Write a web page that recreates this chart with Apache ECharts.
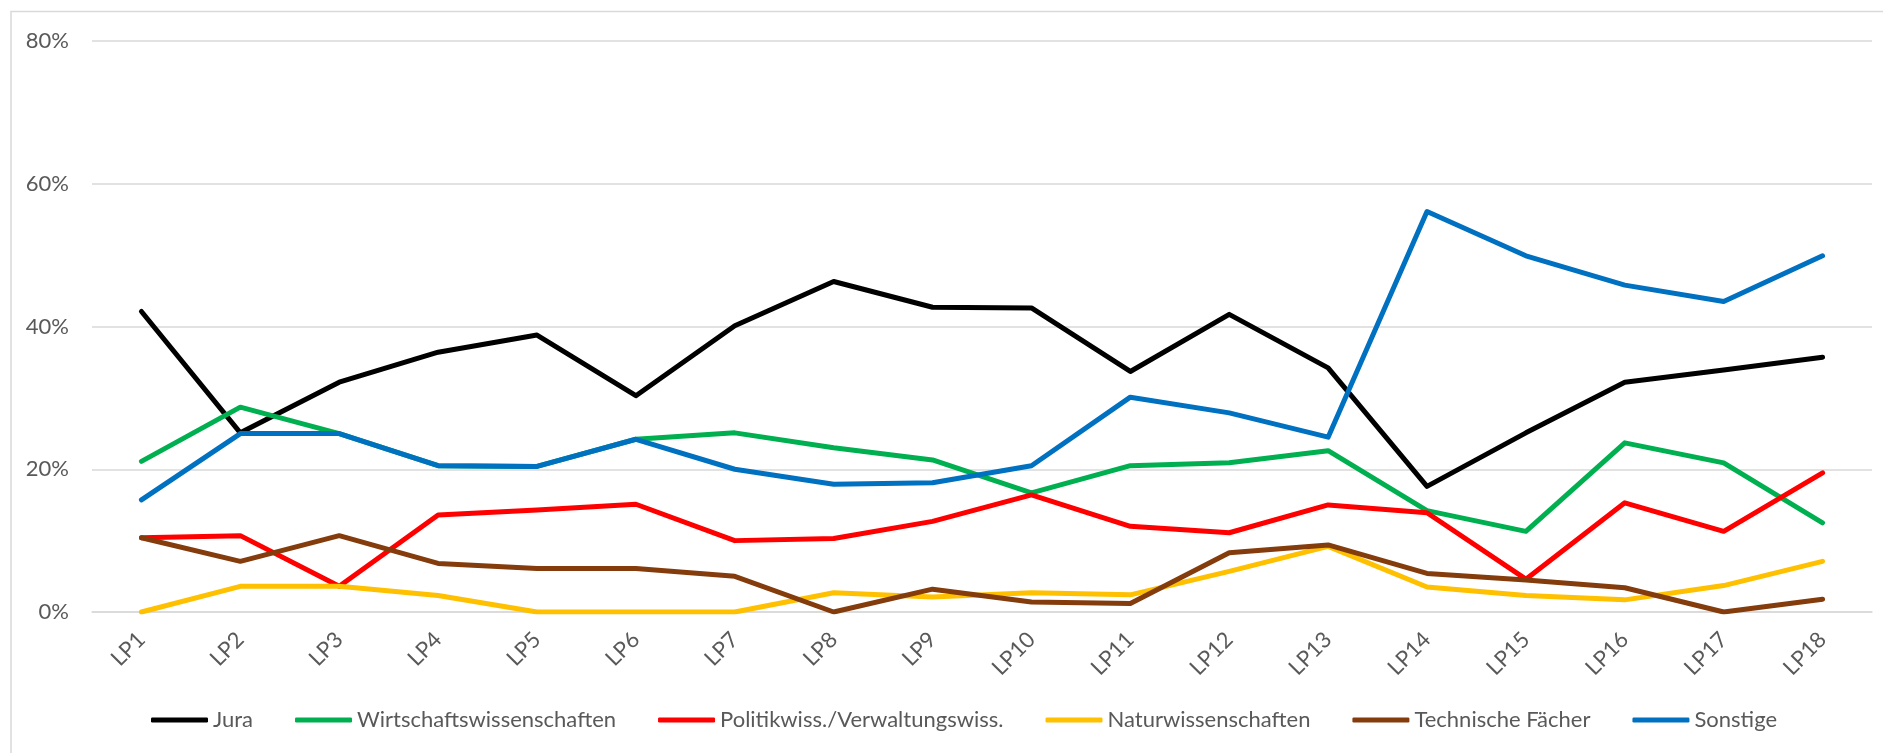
<!DOCTYPE html>
<html>
<head>
<meta charset="utf-8">
<script src="https://cdn.jsdelivr.net/npm/echarts@6/dist/echarts.min.js"></script>
<style>
  html, body { margin: 0; padding: 0; background: #fff; }
  #main { width: 1883px; height: 753px; }
</style>
</head>
<body>
<div id="main"></div>
<script>
// Kategorien (Legislaturperioden)
var categories = ['LP1','LP2','LP3','LP4','LP5','LP6','LP7','LP8','LP9','LP10','LP11','LP12','LP13','LP14','LP15','LP16','LP17','LP18'];

// Anteile in Prozent
var jura          = [42.1, 25.1, 32.2, 36.4, 38.8, 30.3, 40.1, 46.3, 42.7, 42.6, 33.7, 41.7, 34.2, 17.6, 25.1, 32.2, 33.9, 35.7];
var wirtschaft    = [21.1, 28.7, 25.0, 20.5, 20.4, 24.2, 25.1, 23.0, 21.3, 16.7, 20.5, 20.9, 22.6, 14.2, 11.3, 23.7, 20.9, 12.5];
var politik       = [10.4, 10.7, 3.6, 13.6, 14.3, 15.1, 10.0, 10.3, 12.7, 16.4, 12.0, 11.1, 15.0, 13.9, 4.6, 15.3, 11.3, 19.5];
var natur         = [0, 3.6, 3.6, 2.3, 0, 0, 0, 2.7, 2.1, 2.7, 2.4, 5.7, 9.2, 3.5, 2.3, 1.7, 3.7, 7.1];
var technik       = [10.4, 7.1, 10.7, 6.8, 6.1, 6.1, 5.0, 0, 3.2, 1.4, 1.2, 8.3, 9.4, 5.4, 4.5, 3.4, 0, 1.8];
var sonstige      = [15.7, 25.0, 25.0, 20.5, 20.4, 24.2, 20.0, 17.9, 18.1, 20.5, 30.1, 27.9, 24.5, 56.1, 49.9, 45.8, 43.5, 49.9];

var seriesNames  = ['Jura', 'Wirtschaftswissenschaften', 'Politikwiss./Verwaltungswiss.', 'Naturwissenschaften', 'Technische Fächer', 'Sonstige'];
var seriesData   = [jura, wirtschaft, politik, natur, technik, sonstige];
var seriesColors = ['#000000', '#00B050', '#FF0000', '#FFC000', '#843C0C', '#0070C0'];

var fontName = 'Lato, "Open Sans", sans-serif';

var myChart = echarts.init(document.getElementById('main'));

var seriesList = [];
for (var i = 0; i < seriesNames.length; i++) {
  seriesList.push({
    name: seriesNames[i],
    type: 'line',
    data: seriesData[i],
    symbol: 'none',
    color: seriesColors[i],
    itemStyle: { color: seriesColors[i] },
    lineStyle: { color: seriesColors[i], width: 5, cap: 'round', join: 'round' },
    emphasis: { disabled: true }
  });
}

var option = {
  animation: false,
  textStyle: { fontFamily: fontName },
  graphic: [{
    type: 'rect',
    shape: { x: 11, y: 11.5, width: 1900, height: 800 },
    style: { fill: 'none', stroke: '#d9d9d9', lineWidth: 1.5 },
    silent: true
  }],
  grid: { left: 92, right: 11, top: 41, bottom: 141 },
  legend: {
    data: seriesNames,
    bottom: 17,
    left: 146,
    icon: 'roundRect',
    itemWidth: 57,
    itemHeight: 5,
    itemGap: 42,
    textStyle: { fontSize: 22, color: '#595959', fontFamily: fontName }
  },
  xAxis: {
    type: 'category',
    data: categories,
    boundaryGap: true,
    axisTick: { show: false },
    axisLine: { show: true, lineStyle: { color: '#d9d9d9', width: 1.5 } },
    axisLabel: { rotate: 45, fontSize: 22, color: '#595959', margin: 24, fontFamily: fontName }
  },
  yAxis: {
    type: 'value',
    min: 0,
    max: 80,
    interval: 20,
    axisLine: { show: false },
    axisTick: { show: false },
    splitLine: { lineStyle: { color: '#d9d9d9', width: 1.5 } },
    axisLabel: { formatter: '{value}%', fontSize: 22, color: '#595959', margin: 23, fontFamily: fontName }
  },
  series: seriesList
};

myChart.setOption(option);
</script>
</body>
</html>
